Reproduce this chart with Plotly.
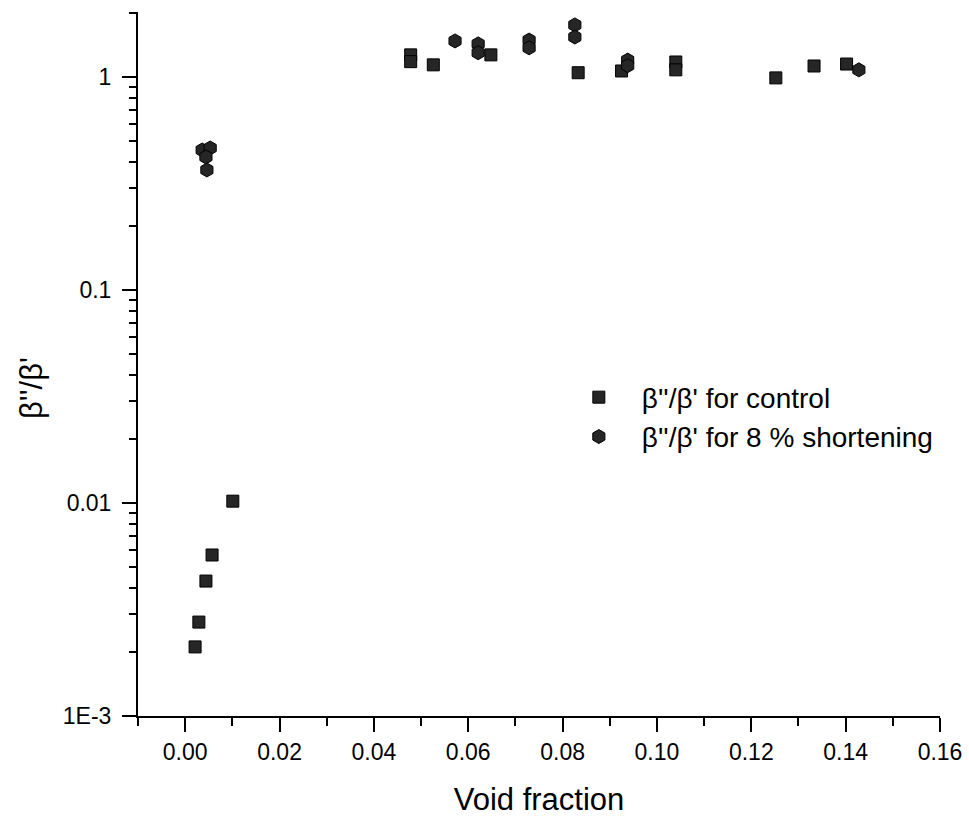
import plotly.graph_objects as go

# Data
ctrl_x = [0.0021, 0.0029, 0.0044, 0.0057, 0.0101,
          0.0478, 0.0478, 0.0526, 0.0648, 0.0833, 0.0925,
          0.1040, 0.1040, 0.1252, 0.1333, 0.1402]
ctrl_y = [0.00211, 0.00276, 0.0043, 0.0057, 0.0102,
          1.27, 1.18, 1.14, 1.27, 1.047, 1.067,
          1.176, 1.08, 0.99, 1.126, 1.15]

short_x = [0.0036, 0.0053, 0.0044, 0.0046,
           0.0572, 0.0621, 0.0621, 0.0729, 0.0729,
           0.0826, 0.0826, 0.0938, 0.0938, 0.1428]
short_y = [0.454, 0.464, 0.421, 0.366,
           1.476, 1.43, 1.30, 1.49, 1.37,
           1.755, 1.54, 1.20, 1.13, 1.08]

x_ticks = [0.00, 0.02, 0.04, 0.06, 0.08, 0.10, 0.12, 0.14, 0.16]
x_ticklabels = ["0.00", "0.02", "0.04", "0.06", "0.08", "0.10", "0.12", "0.14", "0.16"]
y_ticks = [0.001, 0.01, 0.1, 1]
y_ticklabels = ["1E-3", "0.01", "0.1", "1"]

names = ["β''/β' for control", "β''/β' for 8 % shortening"]
x_title = "Void fraction"
y_title = "β''/β'"

FONT = "Liberation Sans, Arial, sans-serif"

fig = go.Figure()
fig.add_trace(go.Scatter(
    x=ctrl_x, y=ctrl_y, mode="markers", name=names[0],
    marker=dict(symbol="square", size=12, color="#262626",
                line=dict(color="#000000", width=1))))
fig.add_trace(go.Scatter(
    x=short_x, y=short_y, mode="markers", name=names[1],
    marker=dict(symbol="hexagon", size=14, color="#262626",
                line=dict(color="#000000", width=1))))

y_minor = [m * 10.0 ** e for e in range(-3, 1) for m in range(2, 10) if m * 10.0 ** e < 2.05]
x_minor = [-0.01 + 0.02 * i for i in range(9)]

fig.update_layout(
    width=969, height=820,
    margin=dict(l=138, r=29, t=12, b=104),
    paper_bgcolor="white", plot_bgcolor="white",
    font=dict(family=FONT, size=23, color="black"),
    showlegend=True,
    legend=dict(x=0.521, y=0.488, xanchor="left", yanchor="top",
                font=dict(size=28, family=FONT), bgcolor="rgba(0,0,0,0)",
                itemwidth=76, tracegroupgap=0),
    xaxis=dict(range=[-0.01, 0.16], showline=True, linecolor="black", linewidth=2,
               showgrid=False, zeroline=False, ticks="outside", ticklen=14,
               tickwidth=1.5, tickcolor="black", automargin=False,
               tickvals=x_ticks, ticktext=x_ticklabels,
               tickfont=dict(size=23, family=FONT),
               minor=dict(tickvals=x_minor, ticks="outside", ticklen=8,
                          tickwidth=1.5, tickcolor="black", showgrid=False),
               title=dict(text=x_title, font=dict(size=31, family=FONT), standoff=25)),
    yaxis=dict(type="log", range=[-3, 0.305], showline=True, linecolor="black", linewidth=2,
               showgrid=False, zeroline=False, ticks="outside", ticklen=14,
               tickwidth=1.5, tickcolor="black", ticklabelstandoff=6, automargin=False,
               tickvals=y_ticks, ticktext=y_ticklabels,
               tickfont=dict(size=23, family=FONT),
               minor=dict(tickvals=y_minor, ticks="outside", ticklen=7,
                          tickwidth=1.5, tickcolor="black", showgrid=False)),
    annotations=[dict(text=y_title, xref="paper", yref="paper",
                      x=-0.132, y=0.466, xanchor="center", yanchor="middle",
                      textangle=-90, showarrow=False,
                      font=dict(size=31, family=FONT))],
)

fig.write_html("out.html")
